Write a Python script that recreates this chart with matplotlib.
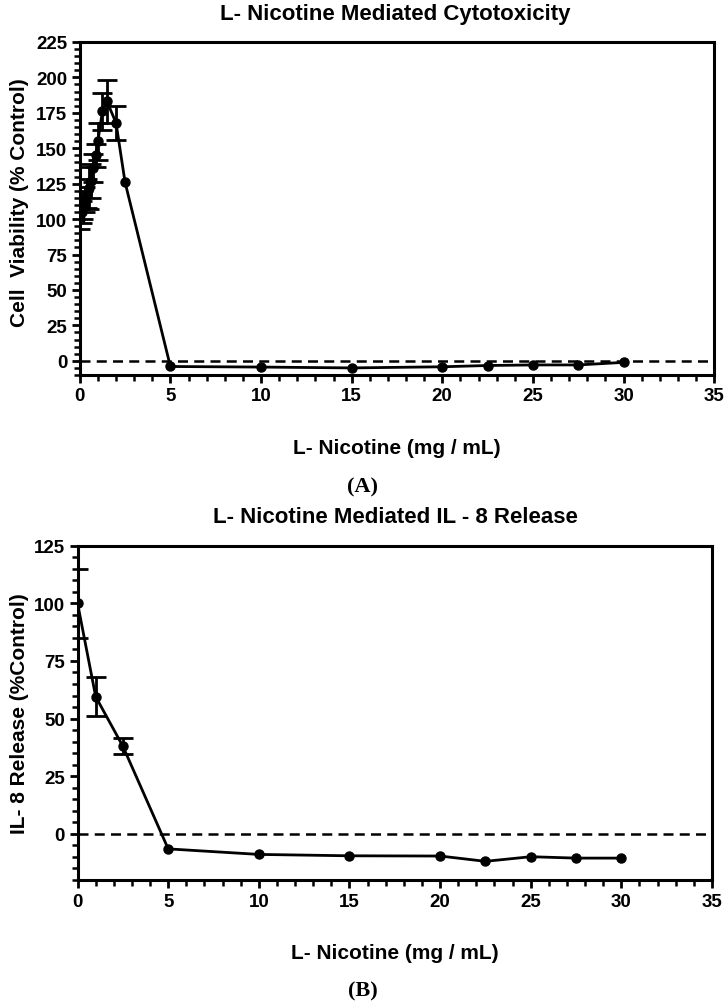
import matplotlib

matplotlib.use("Agg")
import matplotlib.pyplot as plt  # noqa: E402
import numpy as np  # noqa: E402
from matplotlib.ticker import MultipleLocator  # noqa: E402

plt.rcParams["font.family"] = ["Liberation Sans", "DejaVu Sans"]

# Panel A: cytotoxicity
conc_a = [0, 0.1, 0.2, 0.3, 0.4, 0.5, 0.6, 0.75, 0.9, 1.0, 1.25, 1.5, 2.0, 2.5,
          5, 10, 15, 20, 22.5, 25, 27.5, 30]
viability = [100, 105, 110, 114, 118, 122, 127, 136, 145, 155, 176, 183, 168, 126,
             -4, -4.4, -5, -4.2, -3.3, -2.9, -2.9, -1.1]
viability_err = [7, 8, 10, 9, 10, 15, 12, 10, 8, 13, 13, 15, 12, 0,
                 0, 0, 0, 0, 0, 0, 0, 0]

# Panel B: IL-8 release
conc_b = [0, 1, 2.5, 5, 10, 15, 20, 22.5, 25, 27.5, 30]
il8 = [100, 59.5, 38, -6.5, -8.9, -9.5, -9.6, -11.9, -9.9, -10.5, -10.5]
il8_err = [15, 8.5, 3.4, 0, 0, 0, 0, 0, 0, 0, 0]

fig = plt.figure(figsize=(7.25, 10.04), dpi=100)
ax_a = fig.add_axes([0.110, 0.6255, 0.875, 0.3317])
ax_b = fig.add_axes([0.107, 0.1225, 0.875, 0.333])


def style_axes(ax, ymin, ymax, yticks):
    ax.set_xlim(0, 35)
    ax.set_ylim(ymin, ymax)
    ax.set_xticks(range(0, 36, 5))
    ax.set_yticks(yticks)
    ax.xaxis.set_minor_locator(MultipleLocator(1))
    ax.yaxis.set_minor_locator(MultipleLocator(5))
    for s in ax.spines.values():
        s.set_linewidth(2.2)
    ax.tick_params(which="major", direction="out", length=6, width=2,
                   labelsize=13.5, pad=3)
    ax.tick_params(which="minor", direction="out", length=4, width=1.8)
    for lab in ax.get_xticklabels() + ax.get_yticklabels():
        lab.set_fontweight("bold")
    ax.axhline(0, color="black", linewidth=1.8, linestyle=(0, (4, 2.5)), zorder=1)
    ax.set_xlabel("L- Nicotine (mg / mL)", fontsize=15, fontweight="bold", labelpad=24)


def draw_series(ax, x, y, err):
    x = np.asarray(x, dtype=float)
    y = np.asarray(y, dtype=float)
    err = np.asarray(err, dtype=float)
    ax.plot(x, y, color="black", linewidth=2, marker="o", markersize=6.5, zorder=3)
    has_err = err > 0
    ax.errorbar(x[has_err], y[has_err], yerr=err[has_err], fmt="none", ecolor="black",
                capsize=7, capthick=2, elinewidth=2, zorder=3)


draw_series(ax_a, conc_a, viability, viability_err)
style_axes(ax_a, -10, 225, range(0, 226, 25))
ax_a.set_ylabel("Cell  Viability (% Control)", fontsize=15, fontweight="bold")
ax_a.yaxis.set_label_coords(-0.08, 0.52)

draw_series(ax_b, conc_b, il8, il8_err)
style_axes(ax_b, -20, 125, range(0, 126, 25))
ax_b.set_ylabel("IL- 8 Release (%Control)", fontsize=15, fontweight="bold")
ax_b.yaxis.set_label_coords(-0.077, 0.5)

fig.text(0.545, 0.986, "L- Nicotine Mediated Cytotoxicity", ha="center", va="center",
         fontsize=16, fontweight="bold")
fig.text(0.545, 0.485, "L- Nicotine Mediated IL - 8 Release", ha="center", va="center",
         fontsize=16, fontweight="bold")

fig.text(0.5, 0.514, "(A)", ha="center", va="center", fontsize=16, fontweight="bold",
         family=["Liberation Serif", "DejaVu Serif"])
fig.text(0.5, 0.012, "(B)", ha="center", va="center", fontsize=16, fontweight="bold",
         family=["Liberation Serif", "DejaVu Serif"])

fig.savefig("out.png", dpi=100, facecolor="white")
